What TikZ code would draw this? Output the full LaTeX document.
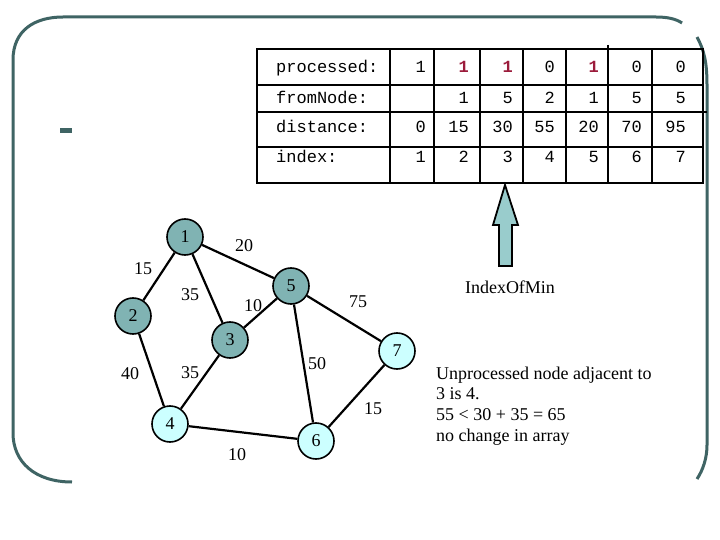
\documentclass[tikz,border=0pt]{standalone}
\usepackage{fontspec}
\setmainfont{Liberation Serif}
\newfontfamily\tabfont{Liberation Mono}
\definecolor{framecol}{HTML}{3F6464}
\definecolor{donecol}{HTML}{80B3B3}
\definecolor{todocol}{HTML}{CCFFFF}
\definecolor{arrowcol}{HTML}{99CCCC}
\definecolor{markcol}{HTML}{9B1B3B}
\begin{document}
\begin{tikzpicture}[x=1pt,y=-1pt,
  gnode/.style={circle, draw=black, line width=1.6pt, minimum size=36pt, inner sep=0pt, font=\fontsize{18}{18}\selectfont},
  donenode/.style={gnode, fill=donecol},
  todonode/.style={gnode, fill=todocol},
  gedge/.style={draw=black, line width=2.2pt},
  wlabel/.style={inner sep=0pt, font=\fontsize{18}{18}\selectfont},
  cell/.style={inner sep=0pt, anchor=base east, font=\tabfont\fontsize{17}{17}\selectfont},
  redcell/.style={cell, text=markcol, font=\tabfont\bfseries\fontsize{17}{17}\selectfont},
  rowlab/.style={inner sep=0pt, anchor=base west, font=\tabfont\fontsize{17}{17}\selectfont},
  frameline/.style={draw=framecol, line width=3pt},
  gridline/.style={draw=black, line width=1.9pt}
]
\useasboundingbox (0,0) rectangle (720,540);
\fill[white] (0,0) rectangle (720,540);

% frame
\path[frameline] (72,482) .. controls (35,482) and (13,462) .. (13,433) -- (13,60)
   .. controls (13,30) and (35,17) .. (63,17) -- (656,17) .. controls (668,17) and (676,19) .. (682,23);
\path[frameline] (697,37) .. controls (704,50) and (707,62) .. (707,85) -- (707,445)
   .. controls (707,458) and (703,470) .. (697,479);
\fill[framecol] (60,128) rectangle (72,133);

% table grid
\draw[gridline] (257,49) rectangle (703,183);
\foreach \y in {85,147} \draw[gridline] (257,\y) -- (703,\y);
\draw[draw=black, line width=2.6pt] (257,112) -- (707,112);
\foreach \x in {390,434,480,523,566,652} \draw[gridline] (\x,49) -- (\x,183);
\draw[gridline] (608,45) -- (608,183);

% row labels
\node[rowlab] (lp) at (276,73) {processed:};
\node[rowlab] (lf) at (276,104) {fromNode:};
\node[rowlab] (ld) at (276,133) {distance:};
\node[rowlab] (li) at (276,163) {index:};

% processed
\node[cell] (p1) at (426,73) {1};
\node[redcell] (p2) at (469,73) {1};
\node[redcell] (p3) at (513,73) {1};
\node[cell] (p4) at (555,73) {0};
\node[redcell] (p5) at (599,73) {1};
\node[cell] (p6) at (642,73) {0};
\node[cell] (p7) at (686,73) {0};
% fromNode
\node[cell] (f2) at (469,104) {1};
\node[cell] (f3) at (513,104) {5};
\node[cell] (f4) at (555,104) {2};
\node[cell] (f5) at (599,104) {1};
\node[cell] (f6) at (642,104) {5};
\node[cell] (f7) at (686,104) {5};
% distance
\node[cell] (d1) at (426,133) {0};
\node[cell] (d2) at (469,133) {15};
\node[cell] (d3) at (513,133) {30};
\node[cell] (d4) at (555,133) {55};
\node[cell] (d5) at (599,133) {20};
\node[cell] (d6) at (642,133) {70};
\node[cell] (d7) at (686,133) {95};
% index
\node[cell] (i1) at (426,163) {1};
\node[cell] (i2) at (469,163) {2};
\node[cell] (i3) at (513,163) {3};
\node[cell] (i4) at (555,163) {4};
\node[cell] (i5) at (599,163) {5};
\node[cell] (i6) at (642,163) {6};
\node[cell] (i7) at (686,163) {7};

% block arrow
\draw[black, line width=1.8pt, fill=arrowcol, line join=miter]
  (505,185) -- (518,225) -- (512,225) -- (512,266) -- (499,266) -- (499,225) -- (493,225) -- cycle;
\node[wlabel] (iom) at (510,287) {IndexOfMin};

% note
\node[inner sep=0pt, anchor=north west, align=left, font=\fontsize{18}{20.7}\selectfont] (note) at (436,366.5)
  {Unprocessed node adjacent to\\3 is 4.\\55 < 30 + 35 = 65\\no change in array};

% graph nodes
\node[donenode] (n1) at (185,237) {1};
\node[donenode] (n2) at (133,316) {2};
\node[donenode] (n5) at (291,286) {5};
\node[donenode] (n3) at (230,340) {3};
\node[todonode] (n7) at (397,351) {7};
\node[todonode] (n4) at (170,424) {4};
\node[todonode] (n6) at (316,441) {6};

% edges
\path[gedge] (n1) -- (n2);
\path[gedge] (n1) -- (n5);
\path[gedge] (n1) -- (n3);
\path[gedge] (n2) -- (n4);
\path[gedge] (n3) -- (n5);
\path[gedge] (n3) -- (n4);
\path[gedge] (n5) -- (n6);
\path[gedge] (n5) -- (n7);
\path[gedge] (n7) -- (n6);
\path[gedge] (n4) -- (n6);

% edge weights
\node[wlabel] (w12) at (143,269) {15};
\node[wlabel] (w15) at (244,246) {20};
\node[wlabel] (w13) at (190,295) {35};
\node[wlabel] (w35) at (253,306) {10};
\node[wlabel] (w57) at (358,302) {75};
\node[wlabel] (w24) at (130,374) {40};
\node[wlabel] (w34) at (190,373) {35};
\node[wlabel] (w56) at (317,364) {50};
\node[wlabel] (w76) at (373,409) {15};
\node[wlabel] (w46) at (237,455) {10};
\end{tikzpicture}
\end{document}
